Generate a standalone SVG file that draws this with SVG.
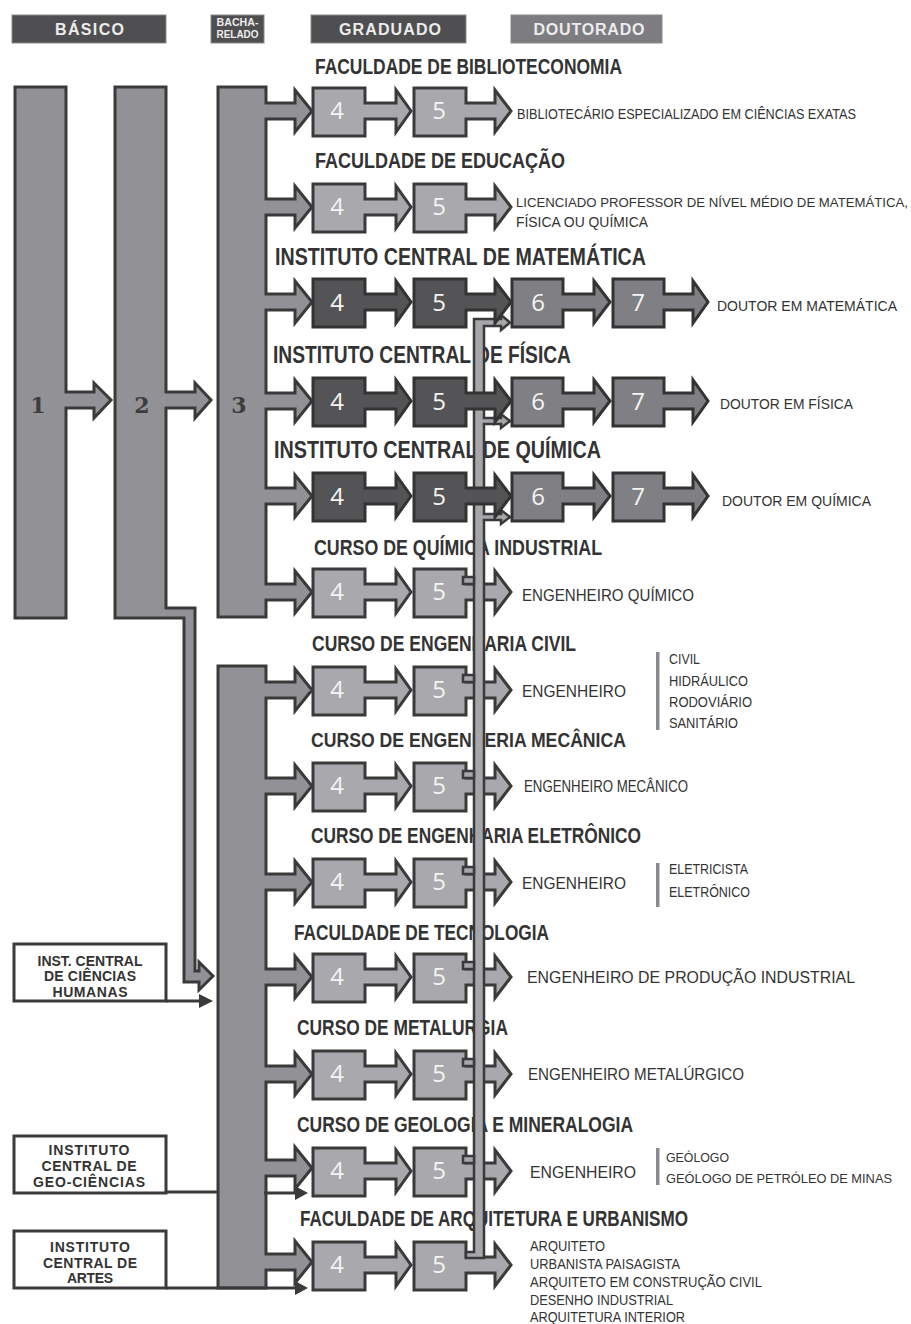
<svg xmlns="http://www.w3.org/2000/svg" xmlns:xlink="http://www.w3.org/1999/xlink" width="911" height="1324" viewBox="0 0 911 1324">
<style>
.col{fill:#929296;stroke:#3a3a3a;stroke-width:3;stroke-linejoin:miter}
.lt{fill:#a9a9ad;stroke:#3a3a3a;stroke-width:3}
.dk{fill:#545456;stroke:#333;stroke-width:3}
.md{fill:#808084;stroke:#333;stroke-width:3}
.pipe{fill:#a7a7ab;stroke:#3a3a3a;stroke-width:2.5}
.hd{fill:#4f4f51;stroke:#8a8a8a;stroke-width:1}
.ht{font-family:"Liberation Sans Narrow","Liberation Sans",sans-serif;font-weight:bold;font-size:16px;fill:#ececec;text-anchor:middle}
.t{font-family:"Liberation Sans Narrow","Liberation Sans",sans-serif;font-weight:bold;font-size:22px;fill:#333}
.ti{font-size:24px}
.o{font-family:"Liberation Sans Narrow","Liberation Sans",sans-serif;font-size:16px;fill:#333}
.s{font-size:14.5px}
.xs{font-size:14px}
.n{font-family:"Open Sans","Liberation Sans",sans-serif;font-size:24px;fill:#f4f4f4;text-anchor:middle}
.c{font-family:"DejaVu Serif","Liberation Serif",serif;font-weight:bold;font-size:22px;fill:#3d3d3d;text-anchor:middle}
.bx{fill:#fff;stroke:#3a3a3a;stroke-width:3}
.bt{font-family:"Liberation Sans",sans-serif;font-weight:bold;font-size:14px;fill:#333;text-anchor:middle}
.ln{fill:none;stroke:#3a3a3a;stroke-width:3}
.ah{fill:#3a3a3a}
.bar{fill:#8a8a8e}
</style>
<defs>
<path id="b4" d="M313,0 H365 V15 H396 V2 L411,23 L396,44 V31 H365 V48 H313 Z"/>
<path id="b5" d="M414,0 H466 V15 H495 V2 L511,23 L495,44 V31 H466 V48 H414 Z"/>
<path id="b6" d="M512,0 H563 V15 H594 V2 L610,23 L594,44 V31 H563 V48 H512 Z"/>
<path id="b7" d="M613,0 H664 V15 H693 V2 L708,23 L693,44 V31 H664 V48 H613 Z"/>
</defs>
<rect width="911" height="1324" fill="#fff"/>

<g id="header">
<rect class="hd" x="12" y="15" width="154" height="28"/>
<text class="ht" x="89.5" y="35" textLength="69">BÁSICO</text>
<rect class="hd" x="211" y="15" width="53" height="28"/>
<text class="ht" x="237.5" y="26" style="font-size:10px" textLength="42" lengthAdjust="spacingAndGlyphs">BACHA-</text>
<text class="ht" x="237.5" y="38" style="font-size:10px" textLength="42" lengthAdjust="spacingAndGlyphs">RELADO</text>
<rect class="hd" x="311" y="15" width="155" height="28"/>
<text class="ht" x="390" y="35" textLength="102">GRADUADO</text>
<rect class="hd" x="511" y="15" width="151" height="28" style="fill:#7d7d81"/>
<text class="ht" x="589" y="35" textLength="111">DOUTORADO</text>
</g>

<g id="col1">
<path class="col" d="M15,87 H66 V392 H94 V383 L111,400 L94,418 V408 H66 V618 H15 Z"/>
<text class="c" x="38" y="413">1</text>
</g>
<g id="col2">
<path class="col" d="M115,87 H166 V392 H195 V383 L211,400 L195,418 V408 H166 V608 H195 V971 H199 V962 L213,976 L199,990 V982 H184 V618 H115 Z"/>
<text class="c" x="142" y="413">2</text>
</g>
<g id="col3">
<path class="col" d="M218,87 H266 V103 H295 V90 L312,111 L295,132 V119 H266 V199 H295 V186 L312,207 L295,228 V215 H266 V294 H295 V281 L312,302 L295,323 V310 H266 V393 H295 V380 L312,401 L295,422 V409 H266 V488 H295 V475 L312,496 L295,517 V504 H266 V584 H295 V571 L312,592 L295,613 V600 H266 V617 H218 Z"/>
<text class="c" x="239" y="413">3</text>
</g>
<g id="col3b">
<path class="col" d="M218,666 H266 V682 H295 V669 L312,690 L295,711 V698 H266 V778 H295 V765 L312,786 L295,807 V794 H266 V874 H295 V861 L312,882 L295,903 V890 H266 V969 H295 V956 L312,977 L295,998 V985 H266 V1066 H295 V1053 L312,1074 L295,1095 V1082 H266 V1160 H295 V1147 L312,1168 L295,1189 V1176 H266 V1254 H295 V1241 L312,1262 L295,1283 V1270 H266 V1288 H218 Z"/>
</g>

<g id="humanas">
<rect class="bx" x="14" y="944" width="152" height="57"/>
<text class="bt" x="90" y="966" textLength="105">INST. CENTRAL</text>
<text class="bt" x="90" y="981" textLength="92">DE CIÊNCIAS</text>
<text class="bt" x="90" y="997" textLength="75">HUMANAS</text>
</g>
<g id="geociencias">
<rect class="bx" x="14" y="1136" width="152" height="57"/>
<text class="bt" x="89" y="1155" textLength="81">INSTITUTO</text>
<text class="bt" x="89" y="1171" textLength="95">CENTRAL DE</text>
<text class="bt" x="89" y="1187" textLength="112">GEO-CIÊNCIAS</text>
</g>
<g id="artes">
<rect class="bx" x="14" y="1231" width="152" height="57"/>
<text class="bt" x="90" y="1252" textLength="80">INSTITUTO</text>
<text class="bt" x="90" y="1268" textLength="94">CENTRAL DE</text>
<text class="bt" x="90" y="1283" textLength="46">ARTES</text>
</g>

<g id="titles">
<text class="t" x="315" y="74" textLength="307" lengthAdjust="spacingAndGlyphs">FACULDADE DE BIBLIOTECONOMIA</text>
<text class="t" x="315" y="168" textLength="250" lengthAdjust="spacingAndGlyphs">FACULDADE DE EDUCAÇÃO</text>
<text class="t ti" x="275" y="265" textLength="371" lengthAdjust="spacingAndGlyphs">INSTITUTO CENTRAL DE MATEMÁTICA</text>
<text class="t ti" x="273" y="363" textLength="298" lengthAdjust="spacingAndGlyphs">INSTITUTO CENTRAL DE FÍSICA</text>
<text class="t ti" x="274" y="458" textLength="327" lengthAdjust="spacingAndGlyphs">INSTITUTO CENTRAL DE QUÍMICA</text>
<text class="t" x="314" y="555" textLength="288" lengthAdjust="spacingAndGlyphs">CURSO DE QUÍMICA INDUSTRIAL</text>
<text class="t" x="312" y="651" textLength="264" lengthAdjust="spacingAndGlyphs">CURSO DE ENGENHARIA CIVIL</text>
<text class="t" x="311" y="747" style="font-size:19.8px" textLength="315" lengthAdjust="spacingAndGlyphs">CURSO DE ENGENHERIA MECÂNICA</text>
<text class="t" x="311" y="843" textLength="330" lengthAdjust="spacingAndGlyphs">CURSO DE ENGENHARIA ELETRÔNICO</text>
<text class="t" x="294" y="940" textLength="255" lengthAdjust="spacingAndGlyphs">FACULDADE DE TECNOLOGIA</text>
<text class="t" x="297" y="1035" textLength="211" lengthAdjust="spacingAndGlyphs">CURSO DE METALURGIA</text>
<text class="t" x="297" y="1132" textLength="336" lengthAdjust="spacingAndGlyphs">CURSO DE GEOLOGIA E MINERALOGIA</text>
<text class="t" x="300" y="1226" textLength="388" lengthAdjust="spacingAndGlyphs">FACULDADE DE ARQUITETURA E URBANISMO</text>
</g>

<g id="r1">
<use xlink:href="#b4" href="#b4" class="lt" y="88"/><use xlink:href="#b5" href="#b5" class="lt" y="88"/>
<text class="n" x="337" y="119">4</text><text class="n" x="439" y="119">5</text>
<text class="o" x="517" y="119" style="font-size:14.5px" textLength="339" lengthAdjust="spacingAndGlyphs">BIBLIOTECÁRIO ESPECIALIZADO EM CIÊNCIAS EXATAS</text>
</g>
<g id="r2">
<use xlink:href="#b4" href="#b4" class="lt" y="184"/><use xlink:href="#b5" href="#b5" class="lt" y="184"/>
<text class="n" x="337" y="215">4</text><text class="n" x="439" y="215">5</text>
<text class="o" x="516" y="207" style="font-size:13.2px" textLength="392" lengthAdjust="spacingAndGlyphs">LICENCIADO PROFESSOR DE NÍVEL MÉDIO DE MATEMÁTICA,</text>
<text class="o" x="516" y="227" style="font-size:14px" textLength="132" lengthAdjust="spacingAndGlyphs">FÍSICA OU QUÍMICA</text>
</g>
<g id="r6">
<use xlink:href="#b4" href="#b4" class="lt" y="569"/><use xlink:href="#b5" href="#b5" class="lt" y="569"/>
<text class="n" x="337" y="600">4</text><text class="n" x="439" y="600">5</text>
<text class="o" x="522" y="601" textLength="172" lengthAdjust="spacingAndGlyphs">ENGENHEIRO QUÍMICO</text>
</g>
<g id="r7">
<use xlink:href="#b4" href="#b4" class="lt" y="667"/><use xlink:href="#b5" href="#b5" class="lt" y="667"/>
<text class="n" x="337" y="698">4</text><text class="n" x="439" y="698">5</text>
<text class="o" x="522" y="697" textLength="104" lengthAdjust="spacingAndGlyphs">ENGENHEIRO</text>
<rect class="bar" x="656" y="652" width="3.5" height="78"/>
<text class="o s" x="669" y="664" textLength="31" lengthAdjust="spacingAndGlyphs">CIVIL</text>
<text class="o s" x="669" y="686" textLength="79" lengthAdjust="spacingAndGlyphs">HIDRÁULICO</text>
<text class="o s" x="669" y="707" textLength="83" lengthAdjust="spacingAndGlyphs">RODOVIÁRIO</text>
<text class="o s" x="669" y="728" textLength="69" lengthAdjust="spacingAndGlyphs">SANITÁRIO</text>
</g>
<g id="r8">
<use xlink:href="#b4" href="#b4" class="lt" y="763"/><use xlink:href="#b5" href="#b5" class="lt" y="763"/>
<text class="n" x="337" y="794">4</text><text class="n" x="439" y="794">5</text>
<text class="o" x="524" y="792" textLength="164" lengthAdjust="spacingAndGlyphs">ENGENHEIRO  MECÂNICO</text>
</g>
<g id="r9">
<use xlink:href="#b4" href="#b4" class="lt" y="859"/><use xlink:href="#b5" href="#b5" class="lt" y="859"/>
<text class="n" x="337" y="890">4</text><text class="n" x="439" y="890">5</text>
<text class="o" x="522" y="889" textLength="104" lengthAdjust="spacingAndGlyphs">ENGENHEIRO</text>
<rect class="bar" x="656" y="863" width="3.5" height="44"/>
<text class="o s" x="669" y="874" textLength="79" lengthAdjust="spacingAndGlyphs">ELETRICISTA</text>
<text class="o s" x="669" y="897" textLength="81" lengthAdjust="spacingAndGlyphs">ELETRÔNICO</text>
</g>
<g id="r10">
<use xlink:href="#b4" href="#b4" class="lt" y="954"/><use xlink:href="#b5" href="#b5" class="lt" y="954"/>
<text class="n" x="337" y="985">4</text><text class="n" x="439" y="985">5</text>
<text class="o" x="527" y="983" textLength="328" lengthAdjust="spacingAndGlyphs">ENGENHEIRO DE PRODUÇÃO INDUSTRIAL</text>
</g>
<g id="r11">
<use xlink:href="#b4" href="#b4" class="lt" y="1051"/><use xlink:href="#b5" href="#b5" class="lt" y="1051"/>
<text class="n" x="337" y="1082">4</text><text class="n" x="439" y="1082">5</text>
<text class="o" x="528" y="1080" textLength="216" lengthAdjust="spacingAndGlyphs">ENGENHEIRO METALÚRGICO</text>
</g>
<g id="r12">
<use xlink:href="#b4" href="#b4" class="lt" y="1148"/><use xlink:href="#b5" href="#b5" class="lt" y="1148"/>
<text class="n" x="337" y="1179">4</text><text class="n" x="439" y="1179">5</text>
<text class="o" x="530" y="1178" textLength="106" lengthAdjust="spacingAndGlyphs">ENGENHEIRO</text>
<rect class="bar" x="656" y="1148" width="3.5" height="37"/>
<text class="o" x="666" y="1162" style="font-size:13.6px" textLength="63" lengthAdjust="spacingAndGlyphs">GEÓLOGO</text>
<text class="o" x="666" y="1183" style="font-size:13.6px" textLength="226" lengthAdjust="spacingAndGlyphs">GEÓLOGO DE PETRÓLEO DE MINAS</text>
</g>
<g id="r13">
<use xlink:href="#b4" href="#b4" class="lt" y="1242"/><use xlink:href="#b5" href="#b5" class="lt" y="1242"/>
<text class="n" x="337" y="1273">4</text><text class="n" x="439" y="1273">5</text>
<text class="o xs" x="530" y="1251" textLength="75" lengthAdjust="spacingAndGlyphs">ARQUITETO</text>
<text class="o xs" x="530" y="1269" textLength="150" lengthAdjust="spacingAndGlyphs">URBANISTA PAISAGISTA</text>
<text class="o xs" x="530" y="1287" textLength="232" lengthAdjust="spacingAndGlyphs">ARQUITETO EM CONSTRUÇÃO CIVIL</text>
<text class="o xs" x="530" y="1305" textLength="143" lengthAdjust="spacingAndGlyphs">DESENHO INDUSTRIAL</text>
<text class="o xs" x="530" y="1322" textLength="155" lengthAdjust="spacingAndGlyphs">ARQUITETURA INTERIOR</text>
</g>

<g id="connectors">
<path class="ln" d="M166,1001 H201"/>
<path class="ah" d="M199,994 L213,1001 L199,1008 Z"/>
<path class="ln" d="M166,1192 H218"/>
<path class="ln" d="M264,1193 H297"/>
<path class="ah" d="M295,1186 L308,1193 L295,1200 Z"/>
<path class="ln" d="M166,1288 H297"/>
<path class="ah" d="M295,1281 L308,1288 L295,1295 Z"/>
<path class="pipe" d="M474,319 H501 V315 L510,322.5 L501,330 V326 H484 V418 H501 V414 L510,421 L501,428 V424 H484 V514 H501 V510 L510,517 L501,524 V520 H484 V1258 H466 V1252 H474 Z"/>
<rect class="pipe" x="463" y="577" width="11" height="7"/>
<rect class="pipe" x="463" y="675" width="11" height="7"/>
<rect class="pipe" x="463" y="771" width="11" height="7"/>
<rect class="pipe" x="463" y="867" width="11" height="7"/>
<rect class="pipe" x="463" y="962" width="11" height="7"/>
<rect class="pipe" x="463" y="1059" width="11" height="7"/>
<rect class="pipe" x="463" y="1156" width="11" height="7"/>
</g>

<g id="r3">
<use xlink:href="#b4" href="#b4" class="dk" y="279"/><use xlink:href="#b5" href="#b5" class="dk" y="279"/>
<use xlink:href="#b6" href="#b6" class="md" y="279"/><use xlink:href="#b7" href="#b7" class="md" y="279"/>
<text class="n" x="337" y="311">4</text><text class="n" x="439" y="311">5</text>
<text class="n" x="538" y="311">6</text><text class="n" x="638" y="311">7</text>
<text class="o" x="717" y="311" style="font-size:14.5px" textLength="180" lengthAdjust="spacingAndGlyphs">DOUTOR EM MATEMÁTICA</text>
</g>
<g id="r4">
<use xlink:href="#b4" href="#b4" class="dk" y="378"/><use xlink:href="#b5" href="#b5" class="dk" y="378"/>
<use xlink:href="#b6" href="#b6" class="md" y="378"/><use xlink:href="#b7" href="#b7" class="md" y="378"/>
<text class="n" x="337" y="410">4</text><text class="n" x="439" y="410">5</text>
<text class="n" x="538" y="410">6</text><text class="n" x="638" y="410">7</text>
<text class="o" x="720" y="409" style="font-size:15px" textLength="133" lengthAdjust="spacingAndGlyphs">DOUTOR EM FÍSICA</text>
</g>
<g id="r5">
<use xlink:href="#b4" href="#b4" class="dk" y="473"/><use xlink:href="#b5" href="#b5" class="dk" y="473"/>
<use xlink:href="#b6" href="#b6" class="md" y="473"/><use xlink:href="#b7" href="#b7" class="md" y="473"/>
<text class="n" x="337" y="505">4</text><text class="n" x="439" y="505">5</text>
<text class="n" x="538" y="505">6</text><text class="n" x="638" y="505">7</text>
<text class="o" x="722" y="506" style="font-size:15px" textLength="149" lengthAdjust="spacingAndGlyphs">DOUTOR EM QUÍMICA</text>
</g>
</svg>
